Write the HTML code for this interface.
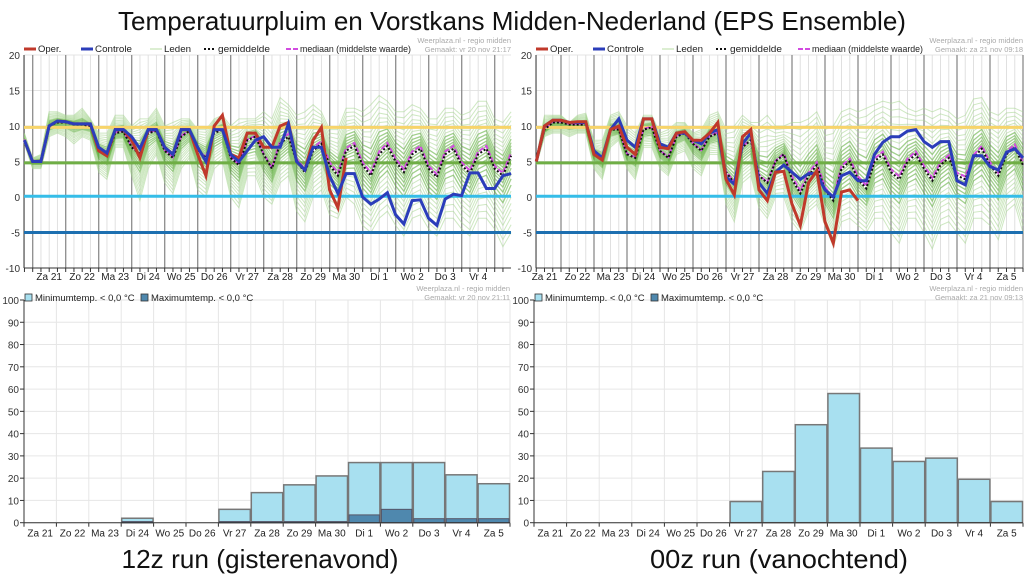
<!DOCTYPE html>
<html><head><meta charset="utf-8">
<style>
html,body{margin:0;padding:0;background:#fff;}
svg{display:block;font-family:"Liberation Sans",sans-serif;}
</style></head>
<body>
<svg id="root" width="1024" height="576" viewBox="0 0 1024 576" xmlns="http://www.w3.org/2000/svg">
<rect width="1024" height="576" fill="#fff"/>
<text x="512" y="30" text-anchor="middle" font-size="26" textLength="788" lengthAdjust="spacingAndGlyphs" fill="#111">Temperatuurpluim en Vorstkans Midden-Nederland (EPS Ensemble)</text>
<text x="260" y="568" text-anchor="middle" font-size="26" textLength="277" lengthAdjust="spacingAndGlyphs" fill="#111">12z run (gisterenavond)</text>
<text x="779" y="568" text-anchor="middle" font-size="26" textLength="258" lengthAdjust="spacingAndGlyphs" fill="#111">00z run (vanochtend)</text>
</svg>
<script>
// ---------- data ----------
const dayLabels = ["Za 21","Zo 22","Ma 23","Di 24","Wo 25","Do 26","Vr 27","Za 28","Zo 29","Ma 30","Di 1","Wo 2","Do 3","Vr 4","Za 5"];
const tempTicks = [20,15,10,5,0,-5,-10];
const pctTicks = [100,90,80,70,60,50,40,30,20,10,0];
const thresholds = [9.8,4.8,0.1,-5];

// left (12z) plume, 6-hourly
const operL = [8,5,5,10,10.7,10.6,10.3,10.3,10.3,6.5,5.8,9.5,9.5,8,5.5,9.5,9.5,7,6,9.5,9.5,6,3,10,11.5,6,5.5,9,9,7,7,10,10.5,5,3.8,8,9.8,1,-1.5,5.5];
const ctrlL = [8,5,5,10,10.7,10.6,10.3,10.3,10.3,7,6.2,9.5,9.5,8.5,6.8,9.5,9.5,7,6,9.5,9.5,7,5,9.5,9.5,6,5,6.5,8,8.5,7,7,10.3,5,3.8,7,7,3,0.5,3.3,3.3,0,-1,-0.3,0.6,-2.5,-3.8,-0.5,-0.4,-3,-4,-0.3,0.4,0.2,3.4,3.4,1.2,1.2,3,3.3];
const meanL = [8,5,5,10,10.5,10.5,10.2,10.2,10,6.5,5.8,9,9.2,7,6,9,9.3,6.5,5.5,8.5,9.3,6.5,5.5,9,9.5,5.5,4.5,8,8.5,6,4,7.5,8.5,5,3.5,6.5,7.5,4.5,3,6.5,7.2,4.5,3,6,7.2,5,3.5,6,6.8,4,2.8,6,6.8,4.5,3.3,6,6.8,4,3,5.8];
const maxL = [9,5.5,6,12,12,11.5,11.5,12.5,11,9,9,11.5,11.5,10,11,11,12.5,10,10.5,11,11,9.5,9.5,11,11.5,10,11,11,11,12,11,14,13,11.5,12,13,12,9.5,9.5,12.5,12.5,12,13,14.3,13.5,12,12,13,12.5,11,11,12.5,12.5,11.5,12,13.5,13.5,11,10.5,12];
const minL = [7.5,4,4,8.5,9,8.5,7.5,8.5,8,3.5,2.5,7,7,3,-0.5,4,6,2,0.5,4,5.5,1,0,4,5,0,-1.5,3,3,0,-1,2,3,-2,-3.5,0,1,-2.5,-3,0,-1,-4,-5,-3,-2,-4,-5.5,-3,-2.5,-4.5,-5.5,-3,-3,-4.5,-5.5,-3,-3,-4.5,-7,-5];

// right (00z) plume
const operR = [5,10,10.8,10.8,10.5,10.6,10.6,6,5.2,9.5,10,7,6,11,11,7,6.8,9,9.2,8,8,9,10.5,2.5,0.3,8.5,9.5,1,-0.5,3.5,3.6,-1,-4,2,3.7,-3.5,-6.5,0.7,1,-0.5];
const ctrlR = [5,10,10.8,10.8,10.5,10.5,10.5,6.5,5.5,9.5,11,8,7,11,11,7.5,7,9,9,8,7.5,9,9.5,2.8,1.8,7.5,9,2,0.5,3.5,4.5,3.5,2.5,3.3,3.3,1,0,3,3.5,2.3,2.3,6,7.7,8.5,8.5,9.3,9.5,7.8,7,7.8,7.8,2.3,1.7,5.8,5.8,4.3,3.8,6.3,6.8,5.5];
const meanR = [5,9.5,10.5,10.5,10.2,10.2,10.2,6,5.2,9.5,9.5,6,5.5,9.5,9.8,6.5,5.5,8.5,9,7.5,6.5,8.5,9,3.5,2,7,8,3,2,5,6,2.5,0.5,3,4.5,1,-0.5,4,5,2.5,1.2,5,6,3.5,2.5,5,6,4,2.3,4.5,5.5,3,2.5,5.5,6.8,4.5,3,6,7,4.5];
const maxR = [5.5,11.5,11.5,11.5,10.5,11.5,11.8,8,8,11.5,12,10,9,11.5,11.5,9,9.5,10.5,10.5,9,9.5,11.5,12,9.5,10,11.5,10.5,10.5,11.5,10,10,10.5,10.5,11,12,9.5,10,12,12.5,12,12.5,13,13.5,13.2,13.5,12.5,12,12.5,12,12.5,12,11,11.5,13.8,14,12,11.5,12.5,12.5,12];
const minR = [4.5,8.5,9,9,8.5,9,9,4,2.5,7,8,4,2.5,7,7,4,3,6,6.5,4,3,6,6,-1,-3.5,2,3,-1.5,-3,0,0,-3.5,-5,-2,-1,-4,-7,-3.5,-3,-4,-5,-3,-3,-5,-6.5,-3,-3,-5,-7.3,-4,-3.5,-5,-6.5,-3,-3,-4,-6,-2,-1,-5];

// frost probability (%)
const frostMinL = [0,0,0,2,0,0,6,13.5,17,21,27,27,27,21.5,17.5];
const frostMaxL = [0,0,0,0.5,0,0,0.5,0.5,0.5,0.5,3.5,6,1.8,1.8,1.8];
const frostMinR = [0,0,0,0,0,0,9.5,23,44,58,33.5,27.5,29,19.5,9.5];
const frostMaxR = [0,0,0,0,0,0,0,0,0,0,0,0,0,0,0];

// ---------- drawing ----------
const NS="http://www.w3.org/2000/svg";
const root=document.getElementById('root');
function mk(tag,attrs,parent){const e=document.createElementNS(NS,tag);for(const k in attrs)e.setAttribute(k,attrs[k]);(parent||root).appendChild(e);return e;}

function plume(cfg){
  const g=mk('g',{});
  
  
  const x0=cfg.x0,x1=cfg.x1,yTop=55,yBot=268;
  const y=v=>yTop+(20-v)*(yBot-yTop)/30;
  const x=i=>cfg.xStart+i*8.25;
  mk('rect',{x:x0,y:yTop,width:x1-x0,height:yBot-yTop,fill:'#fff'},g);
  tempTicks.forEach(t=>{
    mk('line',{x1:x0,x2:x1,y1:y(t),y2:y(t),stroke:'#e4e4e4','stroke-width':1},g);
    const tl=mk('text',{x:x0-4,y:y(t)+4,'text-anchor':'end','font-size':10,fill:'#333'},g);
    tl.textContent=t;
    
    
  });
  for(let k=-8;k<70;k++){
    const xx=cfg.dayStart+k*8.25;
    if(xx<x0||xx>x1)continue;
    const isDay=(k%4===0);
    mk('line',{x1:xx,x2:xx,y1:yTop,y2:yBot,stroke:isDay?'#8c8c8c':'#e0e0e0','stroke-width':isDay?1.3:1},g);
    mk('line',{x1:xx,x2:xx,y1:yBot,y2:yBot+4,stroke:'#333','stroke-width':1},g);
  }
  dayLabels.forEach((d,j)=>{
    const cx=cfg.labelStart+j*33+16.5;
    if(cx>x1-8)return;
    const t=mk('text',{x:cx,y:yBot+12,'text-anchor':'middle','font-size':10,fill:'#222'},g);
    t.textContent=d;
    
    
  });
  mk('line',{x1:x0,x2:x0,y1:yTop,y2:yBot,stroke:'#333'},g);
  mk('line',{x1:x0,x2:x1,y1:yBot,y2:yBot,stroke:'#333'},g);
  const path=(arr,f)=>arr.map((v,i)=>(i?'L':'M')+x(i).toFixed(1)+','+y(f?f(v,i):v).toFixed(1)).join('');
  const fr=[-1,-0.9,-0.8,-0.7,-0.62,-0.54,-0.46,-0.38,-0.3,-0.23,-0.16,-0.1,-0.05,0.05,0.1,0.16,0.23,0.3,0.38,0.46,0.54,0.62,0.7,0.8,0.9,1];
  fr.forEach(f=>{
    const pv=(v,i)=>f<0?v+(-f)*(cfg.min[i]-v):v+f*(cfg.max[i]-v);
    const inner=Math.abs(f)<0.4;
    const p=mk('path',{d:path(cfg.mean,pv),fill:'none',stroke:inner?'#62b041':'#a6d690','stroke-width':inner?1.3:1,'stroke-opacity':inner?0.6:0.55},g);
    
    
  });
  const tc=['#f7d46a','#6fae45','#35bde8','#1d6fb0'];
  thresholds.forEach((v,k)=>{
    const l=mk('line',{x1:x0,x2:x1,y1:y(v),y2:y(v),stroke:tc[k],'stroke-width':3},g);
    
    
  });
  const med=mk('path',{d:path(cfg.mean,(v,i)=>v+(i>30?0.4:0.1)),fill:'none',stroke:'#d24be0','stroke-width':2,'stroke-dasharray':'5,2'},g);
  
  
  const mn=mk('path',{d:path(cfg.mean),fill:'none',stroke:'#111','stroke-width':2,'stroke-dasharray':'2,2'},g);
  
  
  const op=mk('path',{d:path(cfg.oper),fill:'none',stroke:'#c0392b','stroke-width':3},g);
  
  
  const ct=mk('path',{d:path(cfg.ctrl),fill:'none',stroke:'#2b3dba','stroke-width':3},g);
  
  
  if(cfg.operOnTop){ g.appendChild(op); }
  const lx=x0;
  const items=[['Oper.','#c0392b','',3,0,0],['Controle','#2b3dba','',3,57,37],['Leden','#b8dea6','',1,126,27],['gemiddelde','#111','2,2',2,180,52],['mediaan (middelste waarde)','#d24be0','5,2',2,262,111]];
  items.forEach(it=>{
    const lg=mk('g',{},g);
    
    
    mk('line',{x1:lx+it[4],x2:lx+it[4]+12,y1:49,y2:49,stroke:it[1],'stroke-width':it[3],'stroke-dasharray':it[2]||'none'},lg);
    const attrs={x:lx+it[4]+14,y:52,'font-size':9.5,fill:'#222'};
    if(it[5]){attrs.textLength=it[5];attrs.lengthAdjust='spacingAndGlyphs';}
    const t=mk('text',attrs,lg);
    t.textContent=it[0];
  });
  const s1=mk('text',{x:x1,y:43,'text-anchor':'end','font-size':7.5,fill:'#aaa'},g);s1.textContent='Weerplaza.nl - regio midden';
  const s2=mk('text',{x:x1,y:52,'text-anchor':'end','font-size':7.5,fill:'#aaa'},g);s2.textContent=cfg.stamp;
}

function bars(cfg){
  const g=mk('g',{});
  
  
  const x0=cfg.x0,x1=cfg.x1,yTop=300,yBot=522.7;
  const y=v=>yBot-v*(yBot-yTop)/100;
  const w=(x1-x0)/15;
  pctTicks.forEach(t=>{
    mk('line',{x1:x0,x2:x1,y1:y(t),y2:y(t),stroke:'#e6e6e6'},g);
    mk('line',{x1:x0-4,x2:x0,y1:y(t),y2:y(t),stroke:'#333'},g);
    const tl=mk('text',{x:x0-5,y:y(t)+4,'text-anchor':'end','font-size':10,fill:'#333'},g);
    tl.textContent=t;
    
    
  });
  for(let j=0;j<=15;j++){
    const xx=x0+j*w;
    mk('line',{x1:xx,x2:xx,y1:yTop,y2:yBot,stroke:'#e6e6e6'},g);
    mk('line',{x1:xx,x2:xx,y1:yBot,y2:yBot+4,stroke:'#333'},g);
  }
  dayLabels.forEach((d,j)=>{
    const t=mk('text',{x:x0+j*w+w/2,y:yBot+14,'text-anchor':'middle','font-size':10,fill:'#222'},g);
    t.textContent=d;
    
    
  });
  cfg.minv.forEach((v,j)=>{
    if(v<=0)return;
    const r=mk('rect',{x:x0+j*w+0.5,y:y(v),width:w-1,height:yBot-y(v),fill:'#a8e0f0',stroke:'#777','stroke-width':1.5},g);
    
    
  });
  cfg.maxv.forEach((v,j)=>{
    if(v<=0)return;
    const r=mk('rect',{x:x0+j*w+1,y:y(v),width:w-2,height:yBot-y(v),fill:'#4f88ae',stroke:'#556','stroke-width':1},g);
    
    
  });
  mk('line',{x1:x0,x2:x0,y1:yTop,y2:yBot,stroke:'#333'},g);
  mk('line',{x1:x0,x2:x1,y1:yBot,y2:yBot,stroke:'#333'},g);
  [['Minimumtemp. < 0,0 °C','#a8e0f0',0],['Maximumtemp. < 0,0 °C','#4f88ae',116]].forEach(it=>{
    const lg=mk('g',{},g);
    
    
    mk('rect',{x:x0+1+it[2],y:294,width:7,height:7,fill:it[1],stroke:'#333','stroke-width':0.8},lg);
    const t=mk('text',{x:x0+11+it[2],y:301,'font-size':9.5,fill:'#222'},lg);
    t.textContent=it[0];
  });
  const s1=mk('text',{x:x1,y:291,'text-anchor':'end','font-size':7.5,fill:'#aaa'},g);s1.textContent='Weerplaza.nl - regio midden';
  const s2=mk('text',{x:x1,y:300,'text-anchor':'end','font-size':7.5,fill:'#aaa'},g);s2.textContent=cfg.stamp;
}

plume({name:'plume-chart-12z',x0:24,x1:511,xStart:24.4,dayStart:32.7,labelStart:32.7,oper:operL,ctrl:ctrlL,mean:meanL,max:maxL,min:minL,stamp:'Gemaakt: vr 20 nov 21:17'});
plume({name:'plume-chart-00z',x0:536,x1:1023,xStart:536.25,dayStart:561,labelStart:528,oper:operR,ctrl:ctrlR,mean:meanR,max:maxR,min:minR,operOnTop:true,stamp:'Gemaakt: za 21 nov 09:18'});
bars({name:'frost-chart-12z',x0:24,x1:510,minv:frostMinL,maxv:frostMaxL,stamp:'Gemaakt: vr 20 nov 21:11'});
bars({name:'frost-chart-00z',x0:534,x1:1023,minv:frostMinR,maxv:frostMaxR,stamp:'Gemaakt: za 21 nov 09:13'});
</script>
</body></html>
